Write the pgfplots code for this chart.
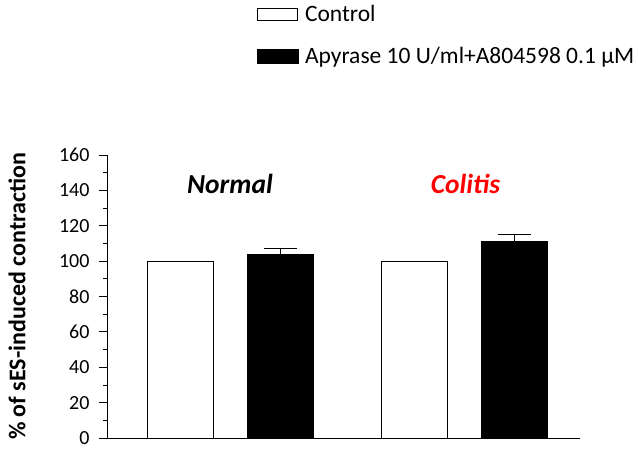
\documentclass[border=0pt]{standalone}
\usepackage{pgfplots}
\pgfplotsset{compat=1.18}
\usepackage{fontspec}
\setmainfont{Carlito}
\begin{document}
\begin{tikzpicture}
% frame of the picture (638 x 449)
\path (-107bp,-11bp) rectangle (531bp,438bp);
\begin{axis}[
    at={(0,0)}, anchor=south west,
    scale only axis,
    width=473bp, height=283bp,
    xmin=0, xmax=473,
    ymin=0, ymax=160,
    axis x line=bottom,
    axis y line=left,
    axis line style={-, line width=0.9bp},
    xtick=\empty,
    ytick={0,20,...,160},
    minor y tick num=1,
    tick align=outside,
    major tick length=8bp,
    minor tick length=4bp,
    tick style={line width=0.8bp, black},
    /pgf/number format/assume math mode=true,
    tick label style={font=\fontsize{20bp}{24bp}\selectfont},
    yticklabel style={xshift=-6bp},
    ylabel={\textbf{\% of sES-induced contraction}},
    ylabel style={at={(axis description cs:-0.190,0.5)}, anchor=center,
        font=\fontsize{24bp}{28bp}\selectfont},
    legend style={
        draw=none, fill=none,
        at={(rel axis cs:0.317,1.54)}, anchor=north west,
        inner sep=0pt,
        font=\fontsize{23.5bp}{28bp}\selectfont,
        row sep=18bp,
        nodes={inner sep=3bp},
        /tikz/every odd column/.append style={column sep=3bp},
    },
    legend cell align=left,
]
\addplot[ybar, bar shift=0pt, bar width=66, draw=black, line width=0.9bp, fill=white,
    legend image code/.code={\draw[black, line width=0.9bp, fill=white] (0bp,-6bp) rectangle (40bp,6bp);}]
    coordinates {(73,100) (307,100)};
\addlegendentry{Control}
\addplot[ybar, bar shift=0pt, bar width=66, draw=black, line width=0.9bp, fill=black,
    error bars/.cd, y dir=plus, y explicit,
    error bar style={line width=1bp, black},
    error mark options={rotate=90, mark size=16.5bp, line width=1bp},
    /pgfplots/legend image code/.code={\draw[black, fill=black] (0bp,-7bp) rectangle (41bp,7bp);}]
    coordinates {(173,103.8) +- (0,3.4) (407,111.0) +- (0,3.8)};
\addlegendentry{Apyrase 10 U/ml+A804598 0.1 μM}
\node[anchor=base, font=\fontsize{27.5bp}{32bp}\selectfont\bfseries\itshape] at (axis cs:123,138.5) {Normal};
\node[anchor=base, font=\fontsize{27.5bp}{32bp}\selectfont\bfseries\itshape, text=red] at (axis cs:358.5,138.5) {Colitis};
\end{axis}
\end{tikzpicture}
\end{document}
